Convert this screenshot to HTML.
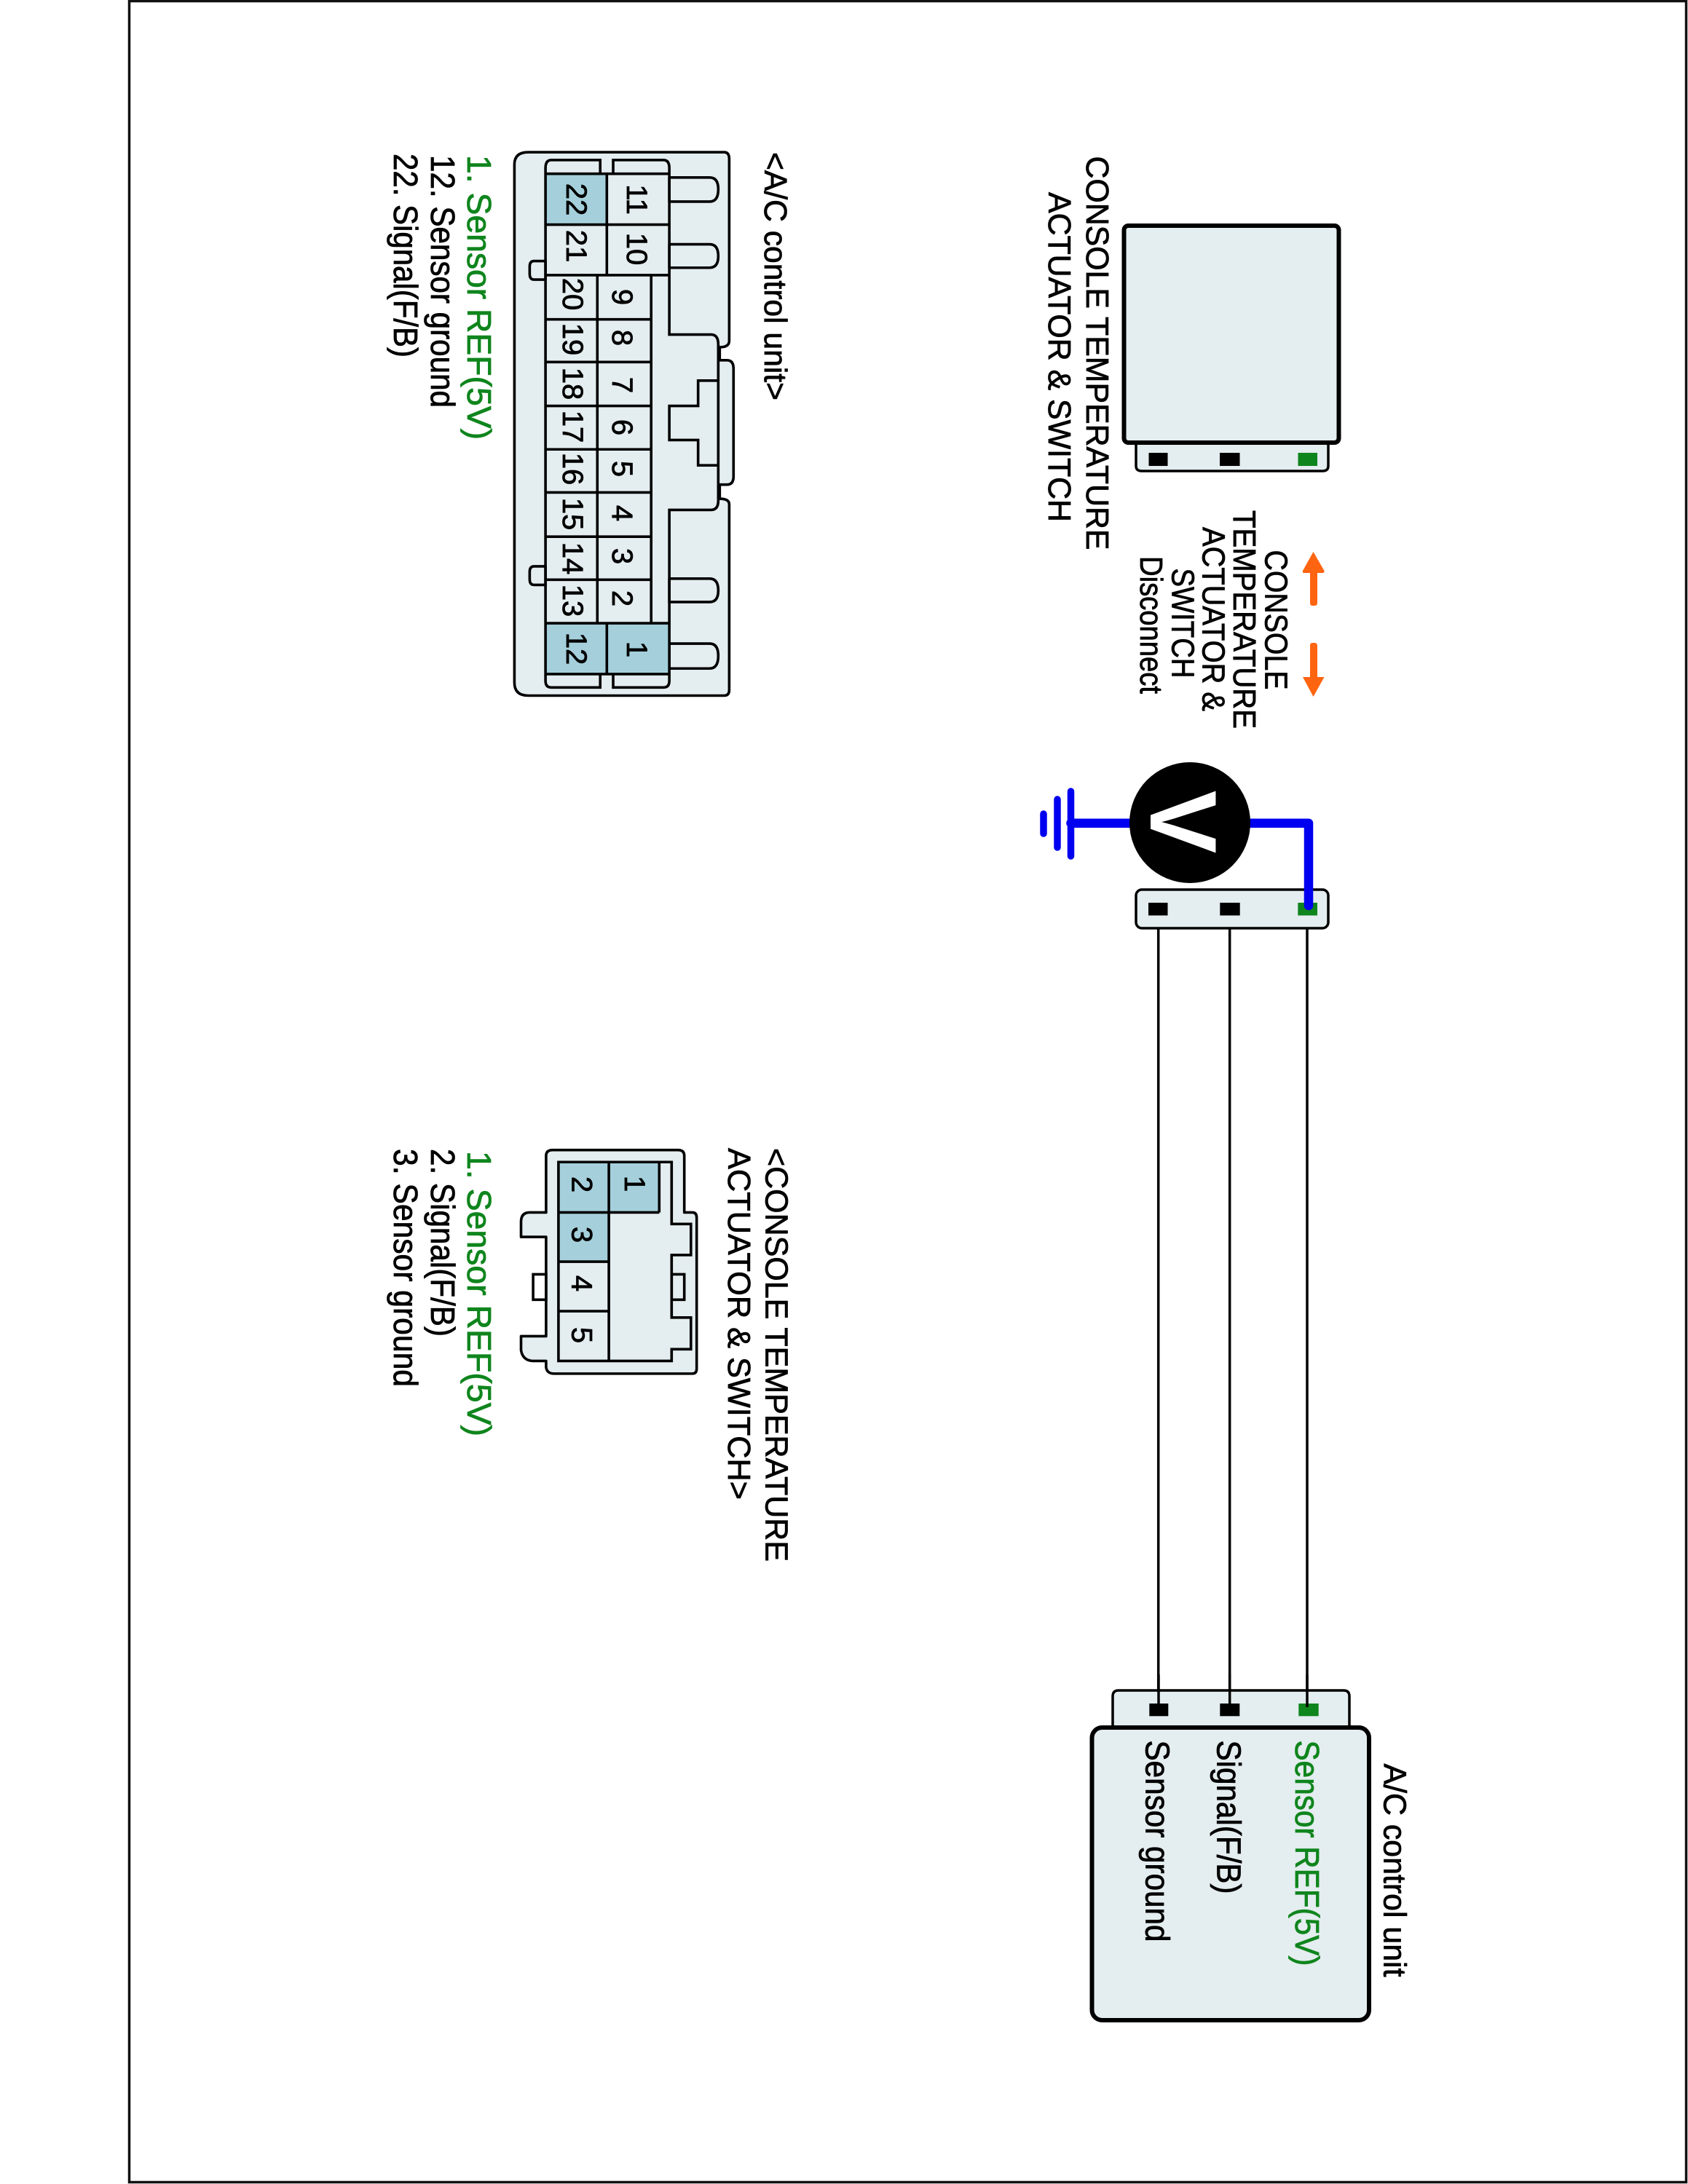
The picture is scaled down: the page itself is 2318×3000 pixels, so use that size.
<!DOCTYPE html>
<html><head><meta charset="utf-8"><title>Diagram</title>
<style>
html,body{margin:0;padding:0;background:#fff}
svg{display:block}
text{font-family:"Liberation Sans",sans-serif;fill:#000;stroke:#000;stroke-width:.8}
.g{fill:#0f851d;stroke:#0f851d}
.n{font-size:40px;text-anchor:middle}
.t{font-size:44px}
.l{font-size:46px}
.p{fill:#e4edef;stroke:#000;stroke-width:3.6;vector-effect:non-scaling-stroke;stroke-linejoin:round}
.o{fill:none;stroke:#000;stroke-width:3.6;vector-effect:non-scaling-stroke}
.c{fill:#a5d0db;stroke:none}
</style></head><body>
<svg width="2318" height="3000" viewBox="0 0 2318 3000" xmlns="http://www.w3.org/2000/svg">
<rect x="0" y="0" width="2318" height="3000" fill="#fff"/>
<rect x="177.5" y="1.5" width="2138" height="2996" fill="none" stroke="#111" stroke-width="3.5"/>

<!-- A/C control unit connector -->
<g transform="translate(500,180) scale(0.3954,0.5102)">
<path class="p" d="M1268,565 Q1268,582 1235,582 L1235,617 L1260,617 Q1283,617 1283,640 L1283,930 Q1283,952 1260,952 L1235,952 L1235,990 Q1268,990 1268,1005 L1268,1505 Q1268,1520 1250,1520 L570,1520 Q522,1520 522,1485 L522,90 Q522,57 570,57 L1250,57 Q1268,57 1268,75 Z"/>
<path class="p" d="M1060,125 L1200,125 Q1230,125 1230,157 Q1230,190 1200,190 L1060,190 Z"/>
<path class="p" d="M1060,305 L1200,305 Q1230,305 1230,337 Q1230,368 1200,368 L1060,368 Z"/>
<path class="p" d="M1060,1205 L1200,1205 Q1230,1205 1230,1237 Q1230,1268 1200,1268 L1060,1268 Z"/>
<path class="p" d="M1060,1380 L1200,1380 Q1230,1380 1230,1413 Q1230,1447 1200,1447 L1060,1447 Z"/>
<path class="p" d="M630,350 L590,350 Q575,350 575,365 L575,385 Q575,400 590,400 L630,400 Z"/>
<path class="p" d="M630,1172 L590,1172 Q575,1172 575,1187 L575,1207 Q575,1222 590,1222 L630,1222 Z"/>
<rect class="c" x="630" y="115" width="213" height="137"/>
<rect class="c" x="630" y="1325" width="213" height="137"/>
<rect class="c" x="843" y="1325" width="217" height="137"/>
<path class="o" d="M820,115 L820,78 L650,78 Q630,78 630,100 L630,1480 Q630,1498 650,1498 L820,1498 L820,1462"/>
<path class="o" d="M865,115 L865,78 L1040,78 Q1060,78 1060,100 L1060,548 L1205,548 Q1230,548 1230,575 L1230,995 Q1230,1020 1205,1020 L1060,1020 L1060,1480 Q1060,1498 1040,1498 L865,1498 L865,1462"/>
<path class="o" d="M1230,672 L1160,672 L1160,740 L1060,740 L1060,832 L1160,832 L1160,900 L1230,900"/>
<path class="o" d="M630,115 H1060 M630,252 H1060 M630,388 H1060 M630,507 H997 M630,622 H997 M630,740 H997 M630,857 H997 M630,973 H997 M630,1092 H997 M630,1208 H997 M630,1325 H1060 M630,1462 H1060 M843,115 V388 M843,1325 V1462 M810,388 V1325 M997,388 V1325"/>
</g>
<g>
<text class="n" transform="translate(861,274) rotate(90)">11</text>
<text class="n" transform="translate(861,342) rotate(90)">10</text>
<text class="n" transform="translate(861,892) rotate(90)">1</text>
<text class="n" transform="translate(778,274) rotate(90)">22</text>
<text class="n" transform="translate(778,338) rotate(90)">21</text>
<text class="n" transform="translate(778,891) rotate(90)">12</text>
<text class="n" transform="translate(841,408) rotate(90)">9</text>
<text class="n" transform="translate(841,464) rotate(90)">8</text>
<text class="n" transform="translate(841,529) rotate(90)">7</text>
<text class="n" transform="translate(841,587) rotate(90)">6</text>
<text class="n" transform="translate(841,644) rotate(90)">5</text>
<text class="n" transform="translate(841,705) rotate(90)">4</text>
<text class="n" transform="translate(841,764) rotate(90)">3</text>
<text class="n" transform="translate(841,822) rotate(90)">2</text>
<text class="n" transform="translate(773,404) rotate(90)">20</text>
<text class="n" transform="translate(773,466) rotate(90)">19</text>
<text class="n" transform="translate(773,527) rotate(90)">18</text>
<text class="n" transform="translate(773,586) rotate(90)">17</text>
<text class="n" transform="translate(773,644) rotate(90)">16</text>
<text class="n" transform="translate(773,706) rotate(90)">15</text>
<text class="n" transform="translate(773,767) rotate(90)">14</text>
<text class="n" transform="translate(773,825) rotate(90)">13</text>
</g>
<text class="t" transform="translate(1050,209) rotate(90)" textLength="341" lengthAdjust="spacingAndGlyphs">&lt;A/C control unit&gt;</text>
<text class="l g" transform="translate(642,213) rotate(90)" textLength="391" lengthAdjust="spacingAndGlyphs">1. Sensor REF(5V)</text>
<text class="l" transform="translate(592,213) rotate(90)" textLength="347" lengthAdjust="spacingAndGlyphs">12. Sensor ground</text>
<text class="l" transform="translate(541,211) rotate(90)" textLength="280" lengthAdjust="spacingAndGlyphs">22. Signal(F/B)</text>

<!-- Console actuator connector -->
<g transform="translate(500,1550) scale(0.3954,0.3954)">
<path class="p" d="M1112,292 L1112,95 Q1112,75 1090,75 L655,75 Q632,75 632,95 L632,292 L575,292 Q545,292 545,325 L545,377 L632,377 L632,722 L545,722 L545,770 Q550,805 585,808 L632,808 L632,830 Q635,852 660,852 L1140,852 Q1155,852 1155,835 L1155,310 Q1155,292 1140,292 Z"/>
<path class="o" d="M587,507 H632 V595 H587 Z M1068,507 H1112 V595 H1068 Z"/>
<rect class="c" x="850" y="117" width="175" height="175"/>
<rect class="c" x="675" y="117" width="175" height="175"/>
<rect class="c" x="675" y="292" width="175" height="171"/>
<path class="o" d="M675,117 L1068,117 L1068,332 L1135,332 L1135,440 L1068,440 L1068,657 L1135,657 L1135,767 L1068,767 L1068,808 L675,808 Z"/>
<path class="o" d="M850,117 V808 M1025,117 V292 M675,292 H1025 M675,463 H850 M675,635 H850"/>
</g>
<text class="n" transform="translate(858,1626) rotate(90)">1</text>
<text class="n" transform="translate(785.5,1627) rotate(90)">2</text>
<text class="n" transform="translate(785.5,1696) rotate(90)">3</text>
<text class="n" transform="translate(785.5,1763) rotate(90)">4</text>
<text class="n" transform="translate(785.5,1834) rotate(90)">5</text>
<text class="t" transform="translate(1051.5,1577) rotate(90)" textLength="568" lengthAdjust="spacingAndGlyphs">&lt;CONSOLE TEMPERATURE</text>
<text class="t" transform="translate(1000,1577) rotate(90)" textLength="483" lengthAdjust="spacingAndGlyphs">ACTUATOR &amp; SWITCH&gt;</text>
<text class="l g" transform="translate(642,1581) rotate(90)" textLength="392" lengthAdjust="spacingAndGlyphs">1. Sensor REF(5V)</text>
<text class="l" transform="translate(592,1578) rotate(90)" textLength="258" lengthAdjust="spacingAndGlyphs">2. Signal(F/B)</text>
<text class="l" transform="translate(541,1578) rotate(90)" textLength="327" lengthAdjust="spacingAndGlyphs">3. Sensor ground</text>

<!-- Wires -->
<path d="M1590.7,1250 V2350 M1688.7,1250 V2350 M1795,1250 V2350" stroke="#000" stroke-width="3.5" fill="none"/>

<!-- Console actuator box -->
<path d="M1560,605 V640 Q1560,647 1568,647 L1816,647 Q1824,647 1824,640 V605" fill="#e4edef" stroke="#000" stroke-width="3.5"/>
<rect x="1543.5" y="310" width="295" height="298" rx="6" fill="#e4edef" stroke="#000" stroke-width="6"/>
<rect x="1577.5" y="622" width="26" height="18" fill="#000"/>
<rect x="1675" y="622" width="27.5" height="18" fill="#000"/>
<rect x="1782.5" y="622" width="26.5" height="18" fill="#0f851d"/>
<text class="t" transform="translate(1492,214.5) rotate(90)" textLength="541" lengthAdjust="spacingAndGlyphs">CONSOLE TEMPERATURE</text>
<text class="t" transform="translate(1440,264) rotate(90)" textLength="453" lengthAdjust="spacingAndGlyphs">ACTUATOR &amp; SWITCH</text>

<!-- Arrows -->
<path d="M1803.5,758 L1818.5,784 Q1819,787 1816,787 L1809,787 L1809,828 Q1809,832 1805,832 L1802,832 Q1799,832 1799,828 L1799,787 L1791,787 Q1788,787 1789,784 Z" fill="#ff6410"/>
<path d="M1803.5,957 L1818.5,930 L1809,930 L1809,887 Q1809,883 1805,883 L1802,883 Q1799,883 1799,887 L1799,930 L1789,930 Z" fill="#ff6410"/>
<text class="t" transform="translate(1737.3,755.5) rotate(90)" textLength="192" lengthAdjust="spacingAndGlyphs">CONSOLE</text>
<text class="t" transform="translate(1694,701) rotate(90)" textLength="300" lengthAdjust="spacingAndGlyphs">TEMPERATURE</text>
<text class="t" transform="translate(1651.7,724) rotate(90)" textLength="253" lengthAdjust="spacingAndGlyphs">ACTUATOR &amp;</text>
<text class="t" transform="translate(1609.3,780.5) rotate(90)" textLength="151" lengthAdjust="spacingAndGlyphs">SWITCH</text>
<text class="t" transform="translate(1566,764) rotate(90)" textLength="189" lengthAdjust="spacingAndGlyphs">Disconnect</text>

<!-- Middle connector -->
<rect x="1560" y="1222" width="264" height="53" rx="8" fill="#e4edef" stroke="#000" stroke-width="3.5"/>
<rect x="1577" y="1240" width="26.5" height="17.5" fill="#000"/>
<rect x="1675.3" y="1240" width="27.4" height="17.5" fill="#000"/>
<rect x="1782.3" y="1240" width="26.7" height="17.5" fill="#0f851d"/>

<!-- Voltmeter and probe -->
<path d="M1470.5,1130.7 H1797 V1244" stroke="#0000f0" stroke-width="12.5" fill="none" stroke-linecap="round" stroke-linejoin="round"/>
<path d="M1470.5,1087 V1176 M1452,1098 V1164 M1433,1118 V1145" stroke="#0000f0" stroke-width="9.5" fill="none" stroke-linecap="round"/>
<circle cx="1634" cy="1130" r="83" fill="#000"/>
<text transform="translate(1580,1129) rotate(90)" font-size="130" font-weight="bold" text-anchor="middle" style="fill:#fff;stroke:none">V</text>

<!-- A/C unit -->
<path d="M1528,2375 V2330 Q1528,2322 1536,2322 L1845,2322 Q1853,2322 1853,2330 V2375" fill="#e4edef" stroke="#000" stroke-width="3.5"/>
<rect x="1499.5" y="2373" width="380.5" height="402" rx="14" fill="#e4edef" stroke="#000" stroke-width="6"/>
<rect x="1578.3" y="2340" width="26" height="17.3" fill="#000"/>
<rect x="1675.3" y="2340" width="27" height="17.3" fill="#000"/>
<rect x="1783.3" y="2340" width="27.4" height="17.3" fill="#0f851d"/>
<path d="M1591,2300 V2345 M1688.7,2300 V2345 M1795,2300 V2345" stroke="#000" stroke-width="3.5" fill="none"/>
<text class="l" transform="translate(1573.3,2390.5) rotate(90)" textLength="277" lengthAdjust="spacingAndGlyphs">Sensor ground</text>
<text class="l" transform="translate(1671.7,2390.5) rotate(90)" textLength="211" lengthAdjust="spacingAndGlyphs">Signal(F/B)</text>
<text class="l g" transform="translate(1779,2390.5) rotate(90)" textLength="310" lengthAdjust="spacingAndGlyphs">Sensor REF(5V)</text>
<text class="t" transform="translate(1900.7,2422.5) rotate(90)" textLength="293" lengthAdjust="spacingAndGlyphs">A/C control unit</text>
</svg>
</body></html>
